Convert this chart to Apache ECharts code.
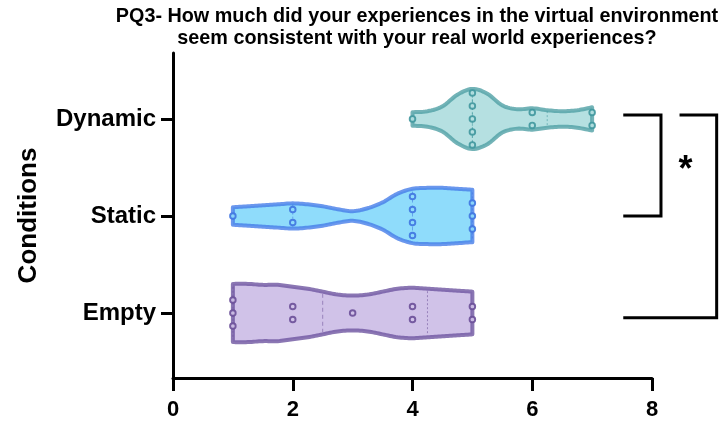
<!DOCTYPE html>
<html><head><meta charset="utf-8">
<script src="https://cdn.jsdelivr.net/npm/echarts@6/dist/echarts.min.js"></script>
<style>html,body{margin:0;padding:0;background:#fff}#c{width:727px;height:423px}</style>
</head><body><div id="c"></div>
<script>
const titleText = 'PQ3- How much did your experiences in the virtual environment\nseem consistent with your real world experiences?';
const categories = ['Empty', 'Static', 'Dynamic'];
const xTicks = [0, 2, 4, 6, 8];
const yAxisTitle = 'Conditions';
const significanceMark = '*';

// raw scores per condition (each circle is one participant)
const emptyScores   = [1, 1, 1, 2, 2, 3, 4, 4, 5, 5];
const staticScores  = [1, 2, 2, 4, 4, 4, 4, 5, 5, 5];
const dynamicScores = [4, 5, 5, 5, 5, 5, 6, 6, 7, 7];

// violin half-widths, evenly spaced from min to max score (category units)
const emptyHalfWidth   = [0.30, 0.30, 0.29, 0.29, 0.27, 0.25, 0.22, 0.19, 0.18, 0.19, 0.22, 0.25, 0.26, 0.25, 0.24, 0.23, 0.22];
const staticHalfWidth  = [0.09, 0.10, 0.11, 0.12, 0.13, 0.12, 0.10, 0.07, 0.05, 0.08, 0.14, 0.23, 0.28, 0.29, 0.29, 0.28, 0.27];
const dynamicHalfWidth = [0.07, 0.08, 0.13, 0.25, 0.31, 0.26, 0.14, 0.10, 0.11, 0.09, 0.08, 0.09, 0.12];

const groups = [
  { scores: emptyScores, hw: emptyHalfWidth, fill: '#d0c2e8', stroke: 'rgba(110,85,160,0.8)', dot: '#6a4f98' },
  { scores: staticScores, hw: staticHalfWidth, fill: '#8fdcfb', stroke: 'rgba(70,125,232,0.8)', dot: '#3f74e0' },
  { scores: dynamicScores, hw: dynamicHalfWidth, fill: '#b5e0e1', stroke: 'rgba(80,160,165,0.8)', dot: '#3f979d' }
];

function quantile(sorted, p) {
  const n = sorted.length, pos = (n + 1) * p;
  const lo = Math.floor(pos), frac = pos - lo;
  const a = sorted[Math.max(0, Math.min(n - 1, lo - 1))];
  const b = sorted[Math.max(0, Math.min(n - 1, lo))];
  return a + frac * (b - a);
}
function catmull(pts, steps) {
  const out = [];
  for (let i = 0; i < pts.length - 1; i++) {
    const p0 = pts[Math.max(i - 1, 0)], p1 = pts[i], p2 = pts[i + 1], p3 = pts[Math.min(i + 2, pts.length - 1)];
    for (let s = 0; s < steps; s++) {
      const t = s / steps, t2 = t * t, t3 = t2 * t;
      const f = k => 0.5 * (2 * p1[k] + (-p0[k] + p2[k]) * t + (2 * p0[k] - 5 * p1[k] + 4 * p2[k] - p3[k]) * t2 + (-p0[k] + 3 * p1[k] - 3 * p2[k] + p3[k]) * t3);
      out.push([f(0), f(1)]);
    }
  }
  out.push(pts[pts.length - 1]);
  return out;
}
function hwAt(g, x) {
  const mn = Math.min(...g.scores), mx = Math.max(...g.scores);
  const n = g.hw.length, pos = (x - mn) / (mx - mn) * (n - 1);
  const i = Math.max(0, Math.min(n - 2, Math.floor(pos))), f = pos - i;
  return g.hw[i] + f * (g.hw[i + 1] - g.hw[i]);
}

function renderViolin(params, api) {
  const gi = api.value(2), g = groups[gi], yc = gi + 1;
  const mn = Math.min(...g.scores), mx = Math.max(...g.scores);
  const n = g.hw.length;
  const top = [], bot = [];
  for (let i = 0; i < n; i++) {
    const x = mn + i * (mx - mn) / (n - 1);
    top.push(api.coord([x, yc + g.hw[i]]));
    bot.push(api.coord([x, yc - g.hw[i]]));
  }
  const st = catmull(top, 8), sb = catmull(bot, 8).reverse();
  const poly = st.concat(sb);
  const children = [{
    type: 'polygon', shape: { points: poly },
    style: { fill: g.fill, stroke: g.stroke, lineWidth: 4, lineJoin: 'round' }
  }];
  const sorted = g.scores.slice().sort((a, b) => a - b);
  const qs = [[quantile(sorted, 0.25), [2, 2]], [quantile(sorted, 0.75), [2, 2]], [quantile(sorted, 0.5), [4, 3]]];
  qs.forEach(([q, dash]) => {
    const h = hwAt(g, q) * 0.9;
    const p1 = api.coord([q, yc + h]), p2 = api.coord([q, yc - h]);
    children.push({ type: 'line', shape: { x1: p1[0], y1: p1[1], x2: p2[0], y2: p2[1] },
      style: { stroke: g.dot, lineWidth: 1, lineDash: dash, opacity: 0.55 } });
  });
  const counts = {};
  g.scores.forEach(v => counts[v] = (counts[v] || 0) + 1);
  Object.keys(counts).forEach(k => {
    const v = +k, c = counts[k];
    const center = api.coord([v, yc]);
    for (let j = 0; j < c; j++) {
      const dy = (j - (c - 1) / 2) * 13;
      children.push({ type: 'circle', shape: { cx: center[0], cy: center[1] + dy, r: 2.8 },
        style: { fill: g.fill, stroke: g.dot, lineWidth: 1.9, opacity: 0.9 } });
    }
  });
  return { type: 'group', children };
}

function renderBrackets(params, api) {
  const L = (pts) => ({ type: 'polyline', shape: { points: pts.map(p => api.coord(p)) },
    style: { stroke: '#000', lineWidth: 3, fill: null, lineJoin: 'miter' } });
  const star = api.coord([8.56, 2.52]);
  return { type: 'group', children: [
    L([[7.52, 3.04], [8.15, 3.04], [8.15, 2.0], [7.52, 2.0]]),
    L([[8.46, 3.04], [9.08, 3.04], [9.08, 0.95], [7.52, 0.95]]),
    { type: 'text', x: star[0], y: star[1] + 6, style: { text: significanceMark, font: 'bold 36px "Liberation Sans", Arial', fill: '#000', textAlign: 'center', textVerticalAlign: 'middle' } }
  ] };
}

const chart = echarts.init(document.getElementById('c'), null, { renderer: 'canvas' });
chart.setOption({
  animation: false,
  backgroundColor: '#fff',
  textStyle: { fontFamily: '"Liberation Sans", Arial, sans-serif' },
  graphic: [{ type: 'text', x: 417, y: 6, style: { text: titleText, textAlign: 'center', font: 'bold 19.8px "Liberation Sans", Arial', fill: '#000', lineHeight: 22 } }],
  grid: { left: 173, right: 75, top: 53, bottom: 45, containLabel: false, outerBoundsMode: 'none' },
  xAxis: {
    type: 'value', min: xTicks[0], max: xTicks[xTicks.length - 1], interval: xTicks[1] - xTicks[0],
    axisLine: { show: true, lineStyle: { color: '#000', width: 3 } },
    axisTick: { show: true, inside: false, length: 13, lineStyle: { color: '#000', width: 3 } },
    axisLabel: { color: '#000', fontWeight: 'bold', fontSize: 22, margin: 21 },
    splitLine: { show: false }
  },
  yAxis: {
    type: 'value', min: 0.33, max: 3.68,
    name: yAxisTitle, nameLocation: 'middle', nameRotate: 90, nameGap: 131,
    nameTextStyle: { color: '#000', fontWeight: 'bold', fontSize: 26 },
    axisLine: { show: true, lineStyle: { color: '#000', width: 3 } },
    axisTick: { show: true, length: 12, customValues: [1, 2, 3], lineStyle: { color: '#000', width: 3 } },
    axisLabel: { color: '#000', fontWeight: 'bold', fontSize: 24, margin: 17, customValues: [1, 2, 3], formatter: v => categories[Math.round(v) - 1] || '' },
    splitLine: { show: false }
  },
  series: [
    { type: 'custom', renderItem: renderViolin, data: groups.map((g, i) => [Math.min(...g.scores), i + 1, i]), encode: { x: 0, y: 1 }, z: 2 },
    { type: 'custom', renderItem: renderBrackets, data: [[8, 2]], encode: { x: 0, y: 1 }, clip: false, z: 3 }
  ]
});
</script></body></html>
